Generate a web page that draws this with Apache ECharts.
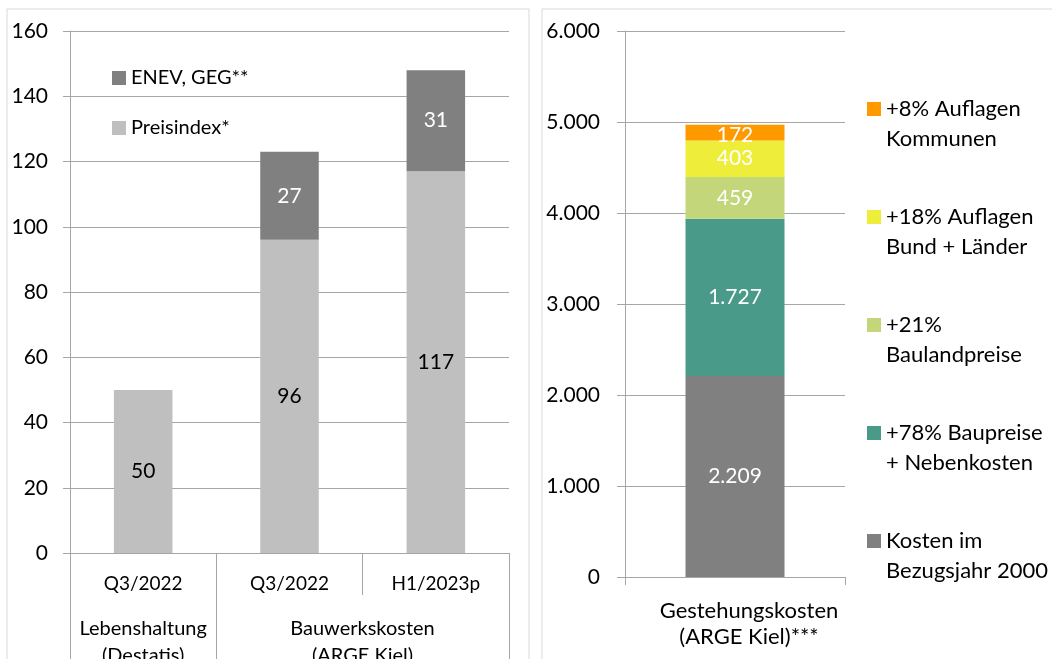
<!DOCTYPE html>
<html><head><meta charset="utf-8">
<script src="https://cdn.jsdelivr.net/npm/echarts@6/dist/echarts.min.js"></script>
<style>html,body{margin:0;padding:0;background:#fff}#c{width:1052px;height:659px}</style>
</head><body><div id="c"></div>
<script>
// Left chart data
const leftCats = ['Q3/2022', 'Q3/2022', 'H1/2023p'];
const leftGroups = ['Lebenshaltung\n(Destatis)', 'Bauwerkskosten\n(ARGE Kiel)', ''];
const preisindex = [50, 96, 117];
const enev = ['-', 27, 31];
const leftTicks = [0, 20, 40, 60, 80, 100, 120, 140, 160];

// Right chart data
const rightCats = ['Gestehungskosten\n(ARGE Kiel)***'];
const kosten2000 = [2209];
const baupreise = [1727];
const bauland = [459];
const bundLaender = [403];
const kommunen = [172];
const rightTicks = [0, 1000, 2000, 3000, 4000, 5000, 6000];

const FONT = 'Lato';
const chart = echarts.init(document.getElementById('c'));
const gridColor = '#A6A6A6';
const fmtDE = v => String(v).replace(/\B(?=(\d{3})+(?!\d))/g, '.');

const rightNames = {
  k: '\n+8% Auflagen\nKommunen',
  b: '\n+18% Auflagen\nBund + Länder',
  l: '\n+21%\nBaulandpreise',
  p: '\n+78% Baupreise\n+ Nebenkosten',
  c: '\nKosten im\nBezugsjahr 2000'
};

const option = {
  animation: false,
  textStyle: { fontFamily: FONT },
  graphic: [
    { type: 'rect', shape: { x: 7, y: 9, width: 522, height: 700 }, style: { fill: 'none', stroke: '#D9D9D9', lineWidth: 1 } },
    { type: 'rect', shape: { x: 542, y: 9, width: 600, height: 700 }, style: { fill: 'none', stroke: '#D9D9D9', lineWidth: 1 } }
  ],
  legend: [
    {
      left: 107, top: 61, orient: 'vertical', itemWidth: 14, itemHeight: 14, itemGap: 26,
      icon: 'rect',
      data: ['ENEV, GEG**', 'Preisindex*'],
      textStyle: { fontFamily: FONT, fontSize: 20, color: '#000', lineHeight: 24 }
    },
    {
      left: 862, top: 59, orient: 'vertical', itemWidth: 14, itemHeight: 14, itemGap: 18,
      icon: 'rect',
      data: [rightNames.k, rightNames.b, rightNames.l, rightNames.p, rightNames.c],
      textStyle: { fontFamily: FONT, fontSize: 22, color: '#000', lineHeight: 30 }
    }
  ],
  grid: [
    { left: 70, right: 543, top: 31, bottom: 106, containLabel: false, outerBoundsMode: 'none' },
    { left: 625, right: 207, top: 31, bottom: 82, containLabel: false, outerBoundsMode: 'none' }
  ],
  xAxis: [
    {
      type: 'category', gridIndex: 0, data: leftCats,
      axisLine: { lineStyle: { color: gridColor } },
      axisTick: { show: true, length: 42, interval: 0, lineStyle: { color: gridColor } },
      axisLabel: { interval: 0, fontFamily: FONT, fontSize: 19, color: '#000', margin: 21 }
    },
    {
      type: 'category', gridIndex: 0, data: leftGroups, position: 'bottom', offset: 0,
      axisLine: { show: false },
      axisTick: { show: true, length: 110, interval: (i) => i < 2, lineStyle: { color: gridColor } },
      axisLabel: {
        interval: 0, fontFamily: FONT, fontSize: 20, color: '#000', margin: 62, lineHeight: 27,
        formatter: (v, i) => {
          if (i === 1) return v.split('\n').map(s => '{g|' + s + '}').join('\n');
          return v;
        },
        rich: { g: { fontFamily: FONT, fontSize: 20, color: '#000', lineHeight: 27, padding: [0, 0, 0, 146] } }
      }
    },
    {
      type: 'category', gridIndex: 1, data: rightCats,
      axisLine: { lineStyle: { color: gridColor } },
      axisTick: { show: true, length: 8, lineStyle: { color: gridColor } },
      axisLabel: { fontFamily: FONT, fontSize: 22, color: '#000', margin: 21, lineHeight: 26, padding: [0, 0, 0, 28] }
    }
  ],
  yAxis: [
    {
      type: 'value', gridIndex: 0, min: leftTicks[0], max: leftTicks[leftTicks.length - 1], interval: 20,
      axisLine: { show: true, lineStyle: { color: gridColor } },
      axisTick: { show: true, length: 7, lineStyle: { color: gridColor } },
      splitLine: { lineStyle: { color: gridColor } },
      axisLabel: { fontFamily: FONT, fontSize: 21, color: '#000', margin: 22 }
    },
    {
      type: 'value', gridIndex: 1, min: rightTicks[0], max: rightTicks[rightTicks.length - 1], interval: 1000,
      axisLine: { show: true, lineStyle: { color: gridColor } },
      axisTick: { show: true, length: 8, lineStyle: { color: gridColor } },
      splitLine: { lineStyle: { color: gridColor } },
      axisLabel: { fontFamily: FONT, fontSize: 21, color: '#000', margin: 25, formatter: fmtDE }
    }
  ],
  series: [
    {
      name: 'Preisindex*', type: 'bar', xAxisIndex: 0, yAxisIndex: 0, stack: 'L', data: preisindex,
      barWidth: '40%', itemStyle: { color: '#BFBFBF' },
      label: { show: true, position: 'inside', fontFamily: FONT, fontSize: 21, color: '#000' }
    },
    {
      name: 'ENEV, GEG**', type: 'bar', xAxisIndex: 0, yAxisIndex: 0, stack: 'L', data: enev,
      barWidth: '40%', itemStyle: { color: '#808080' },
      label: { show: true, position: 'inside', fontFamily: FONT, fontSize: 21, color: '#fff' }
    },
    {
      name: rightNames.c, type: 'bar', xAxisIndex: 2, yAxisIndex: 1, stack: 'R', data: kosten2000,
      barWidth: '45%', itemStyle: { color: '#808080' },
      label: { show: true, position: 'inside', fontFamily: FONT, fontSize: 21, color: '#fff', formatter: p => fmtDE(p.value) }
    },
    {
      name: rightNames.p, type: 'bar', xAxisIndex: 2, yAxisIndex: 1, stack: 'R', data: baupreise,
      barWidth: '45%', itemStyle: { color: '#4A9A8A' },
      label: { show: true, position: 'inside', fontFamily: FONT, fontSize: 21, color: '#fff', formatter: p => fmtDE(p.value) }
    },
    {
      name: rightNames.l, type: 'bar', xAxisIndex: 2, yAxisIndex: 1, stack: 'R', data: bauland,
      barWidth: '45%', itemStyle: { color: '#C4D67A' },
      label: { show: true, position: 'inside', fontFamily: FONT, fontSize: 21, color: '#fff' }
    },
    {
      name: rightNames.b, type: 'bar', xAxisIndex: 2, yAxisIndex: 1, stack: 'R', data: bundLaender,
      barWidth: '45%', itemStyle: { color: '#EEEE3A' },
      label: { show: true, position: 'inside', fontFamily: FONT, fontSize: 21, color: '#fff' }
    },
    {
      name: rightNames.k, type: 'bar', xAxisIndex: 2, yAxisIndex: 1, stack: 'R', data: kommunen,
      barWidth: '45%', itemStyle: { color: '#FF9900' },
      label: { show: true, position: 'inside', fontFamily: FONT, fontSize: 21, color: '#fff', offset: [0, 3] }
    }
  ]
};
chart.setOption(option);
</script>
</body></html>
